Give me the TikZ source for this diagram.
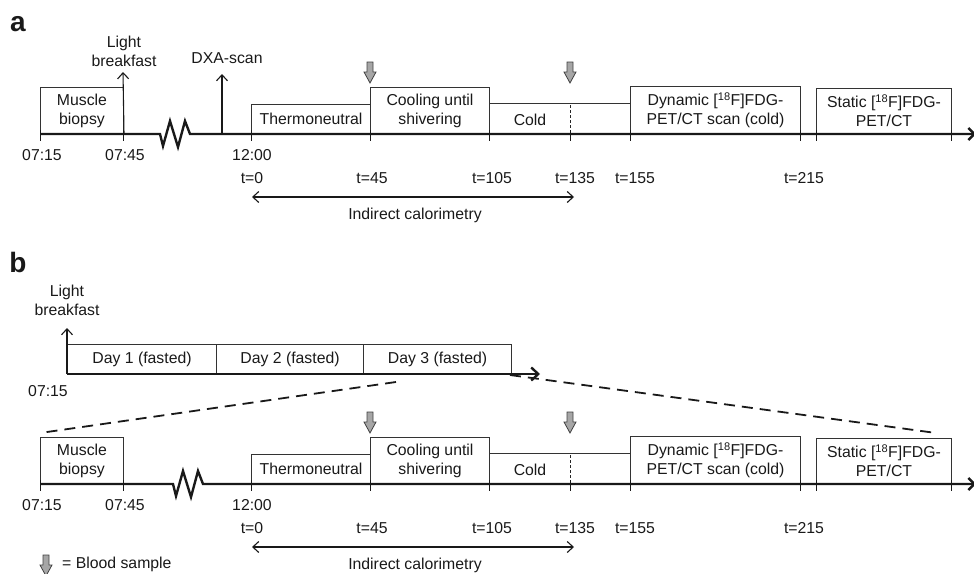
\documentclass[tikz,border=0pt]{standalone}
\usepackage{fontspec}
\setmainfont{Liberation Sans}
\usetikzlibrary{arrows.meta}
\tikzset{
  every node/.style={font=\fontsize{15.8}{19}\selectfont, inner sep=0pt, align=center, text=black!90},
  box/.style={draw=black!80, line width=1pt, anchor=south west},
  axis/.style={line width=2.4pt, black!90},
  tickmark/.style={line width=1pt, black!90},
  uparrow/.style={-{Straight Barb[length=6pt,width=11pt]}, line width=1.1pt, black!90},
  dblarrow/.style={{Straight Barb[length=6pt,width=11pt]}-{Straight Barb[length=6pt,width=11pt]}, line width=1.1pt, black!90},
  zoomline/.style={line width=1.8pt, dash pattern=on 11pt off 7pt, black!90},
  panellabel/.style={font=\fontsize{28}{30}\selectfont\bfseries},
  blood/.pic={\draw[fill=black!35, draw=black!75, line width=0.8pt]
     (-3,-21) -- (3,-21) -- (3,-11) -- (6,-11) -- (0,0) -- (-6,-11) -- (-3,-11) -- cycle;}
}
\newcommand{\tlpanel}[1]{%
  \node[box, minimum width=83pt, minimum height=46pt] (mb) at (40,134) {Muscle\\biopsy};
  \node[box, minimum width=119pt, minimum height=29pt] (th) at (251,134) {Thermoneutral};
  \node[box, minimum width=119pt, minimum height=46pt] (co) at (370,134) {Cooling until\\shivering};
  \node[box, minimum width=141pt, minimum height=30pt] (cd) at (489,134) {};
  \node (cdl) at (530,120) {Cold};
  \draw[black!85, line width=0.8pt, dash pattern=on 3pt off 2pt] (570,105) -- (570,134);
  \node[box, minimum width=170pt, minimum height=47pt] (dy) at (630,134) {Dynamic [\textsuperscript{18}F]FDG-\\PET/CT scan (cold)};
  \node[box, minimum width=135pt, minimum height=45pt] (st) at (816,134) {Static [\textsuperscript{18}F]FDG-\\PET/CT};
  \foreach \x in {40,123,251,370,489,570,630,800,816,951} \draw[tickmark] (\x,130) -- (\x,141);
  \coordinate (axend) at (976,134);
  \draw[axis, -{Straight Barb[length=6pt,width=12pt]}] (mb.south west) -- (#1,134) -- ++(3,12) -- ++(7,-25) -- ++(8,26) -- ++(7,-26) -- ++(5,13) -- (axend);
  \node (t0715) at (42,155) {07:15};
  \node (t0745) at (125,155) {07:45};
  \node (t1200) at (252,155) {12:00};
  \node (tz) at (252,178) {t=0};
  \node (t45) at (372,178) {t=45};
  \node (t105) at (492,178) {t=105};
  \node (t135) at (575,178) {t=135};
  \node (t155) at (635,178) {t=155};
  \node (t215) at (804,178) {t=215};
  \coordinate (ic1) at (252,197);
  \coordinate (ic2) at (574,197);
  \draw[dblarrow] (ic1) -- (ic2);
  \node (icl) at (415,215) {Indirect calorimetry};
  \pic at (370,83) {blood};
  \pic at (570,83) {blood};
}
\begin{document}
\begin{tikzpicture}[x=1pt,y=-1pt]
\useasboundingbox (0,0) rectangle (974,573);
% ---------- panel a ----------
\node[panellabel] (la) at (18,24) {a};
\begin{scope}[name prefix=a-]
  \tlpanel{160}
  \node (lb) at (124,51) {Light\\breakfast};
  \coordinate (lbtip) at (123,72);
  \draw[uparrow] (mb.south east) -- (lbtip);
  \node (dxa) at (227,58) {DXA-scan};
  \coordinate (dxabase) at (222,134);
  \coordinate (dxatip) at (222,74);
  \draw[uparrow] (dxabase) -- (dxatip);
\end{scope}
% ---------- panel b ----------
\node[panellabel] (lbb) at (18,262) {b};
\node[box, minimum width=149pt, minimum height=29pt] (d1) at (67,374) {Day 1 (fasted)};
\node[box, minimum width=147pt, minimum height=29pt] (d2) at (216,374) {Day 2 (fasted)};
\node[box, minimum width=148pt, minimum height=29pt] (d3) at (363,374) {Day 3 (fasted)};
\coordinate (bend) at (540,374);
\draw[axis, -{Straight Barb[length=7pt,width=13pt]}] (d1.south west) -- (bend);
\node (blb) at (67,300) {Light\\breakfast};
\coordinate (blbtip) at (67,328);
\draw[uparrow] (d1.south west) -- (blbtip);
\node (b0715) at (48,391) {07:15};
\begin{scope}[shift={(0,350)}, name prefix=b-]
  \tlpanel{173}
\end{scope}
\coordinate (zl1) at (396,382);
\coordinate (zl2) at (40,433);
\coordinate (zr1) at (510,375);
\coordinate (zr2) at (936,433);
\draw[zoomline] (zl1) -- (zl2);
\draw[zoomline] (zr1) -- (zr2);
% legend
\pic at (46,576) {blood};
\node[anchor=west] (leg) at (62,564) {= Blood sample};
\end{tikzpicture}
\end{document}
